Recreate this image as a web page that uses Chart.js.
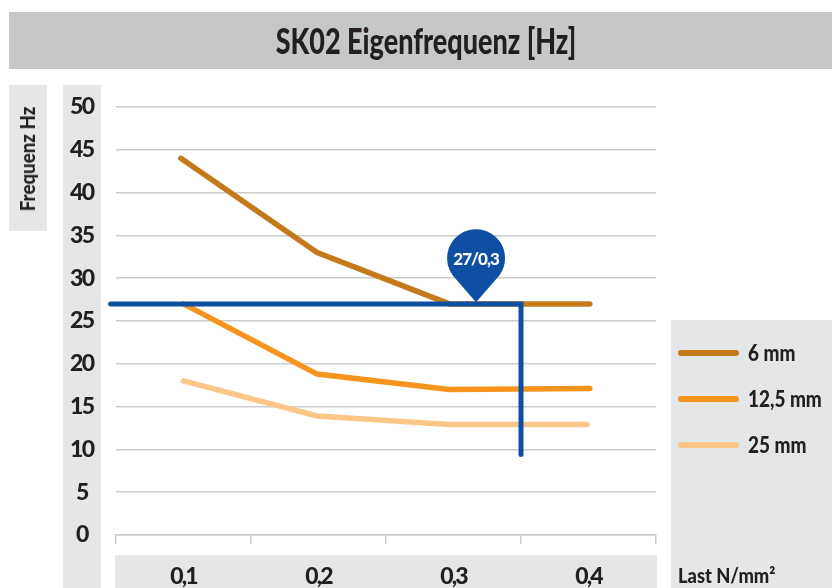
<!DOCTYPE html>
<html>
<head>
<meta charset="utf-8">
<style>
  html, body { margin: 0; padding: 0; background: #fff; overflow: hidden; }
  #wrap { position: relative; width: 832px; height: 588px; font-family: Lato, "Liberation Sans", sans-serif; font-weight: 900; color: #231f20; overflow: hidden; }
  .panel { position: absolute; background: #e5e6e8; }
  .txt { position: absolute; white-space: nowrap; }
  canvas { position: absolute; left: 0; top: 0; }
  .swatch { position: absolute; left: 678px; width: 61px; height: 5.5px; border-radius: 3px; }
</style>
</head>
<body>
<div id="wrap">
  <div class="panel" style="left:9px;top:12px;width:823px;height:57px;background:#c6c7c9"></div>
  <div class="panel" style="left:9px;top:85px;width:38px;height:146px"></div>
  <div class="panel" style="left:63px;top:85px;width:38px;height:503px"></div>
  <div class="panel" style="left:115px;top:555px;width:542px;height:33px"></div>
  <div class="panel" style="left:671px;top:320px;width:161px;height:268px"></div>
  <canvas id="chart" width="832" height="588"></canvas>
  <div class="txt" id="title" style="left:426px;top:20px;font-size:36px;line-height:40px;transform:translateX(-50%) scaleX(0.75)">SK02 Eigenfrequenz [Hz]</div>
  <div class="txt" id="ytitle" style="left:27px;top:159px;font-size:21px;line-height:24px;transform:translate(-50%,-50%) rotate(-90deg) scaleX(0.89)">Frequenz Hz</div>
  <div class="txt" id="xtitle" style="left:678px;top:563px;font-size:21px;line-height:24px;transform-origin:left center;transform:scaleX(0.87)">Last N/mm²</div>
  <div id="legend"></div>
</div>
<script src="https://cdn.jsdelivr.net/npm/chart.js@4"></script>
<script>
const loadLabels = ["0,1", "0,2", "0,3", "0,4"];

const load6 = [0.098, 0.199, 0.297, 0.401];
const hz6 = [44, 33, 27, 27];

const load12 = [0.1, 0.199, 0.297, 0.401];
const hz12 = [27, 18.8, 17, 17.1];

const load25 = [0.1, 0.199, 0.297, 0.399];
const hz25 = [18, 13.9, 12.9, 12.9];

const guideLoad = [0.046, 0.35, 0.35];
const guideHz = [27, 27, 9.4];

const pinLoad = 0.3167;
const pinHz = 27.2;
const pinText = "27/0,3";

const seriesNames = ["6 mm", "12,5 mm", "25 mm"];
const seriesColors = ["#c47a1a", "#f7941e", "#fdc689"];
const guideColor = "#0f4fa3";

const fontName = 'Lato, "Liberation Sans", sans-serif';
const gridColor = "#cbccce";

function points(xs, ys) {
  return xs.map((x, i) => ({ x: x, y: ys[i] }));
}

function lineSet(label, data, color, width) {
  return {
    label: label,
    data: data,
    xAxisID: "xLoad",
    borderColor: color,
    backgroundColor: color,
    borderWidth: width,
    borderCapStyle: "round",
    borderJoinStyle: "miter",
    pointRadius: 0,
    tension: 0,
    clip: false
  };
}

// tighter tick labels, the original type is a condensed face
const tightPlugin = {
  id: "tight",
  beforeDraw(chart) {
    chart.ctx.letterSpacing = "-1.8px";
  }
};

// teardrop marker sitting on the guide line
const pinPlugin = {
  id: "pin",
  afterDatasetsDraw(chart) {
    const ctx = chart.ctx;
    const tipX = chart.scales.xLoad.getPixelForValue(pinLoad);
    const tipY = chart.scales.y.getPixelForValue(pinHz);
    const r = 29;
    const cy = tipY - 44;
    const a = Math.PI * 0.2;
    ctx.save();
    ctx.fillStyle = guideColor;
    ctx.beginPath();
    ctx.arc(tipX, cy, r, Math.PI - a, a);
    ctx.lineTo(tipX, tipY);
    ctx.closePath();
    ctx.fill();
    ctx.fillStyle = "#fff";
    ctx.font = "900 17px " + fontName;
    ctx.letterSpacing = "-1px";
    ctx.textAlign = "center";
    ctx.textBaseline = "middle";
    ctx.fillText(pinText, tipX, cy + 1);
    ctx.restore();
  }
};

new Chart(document.getElementById("chart"), {
  type: "line",
  data: {
    labels: loadLabels,
    datasets: [
      Object.assign(lineSet("Guide", points(guideLoad, guideHz), guideColor, 5), { order: 0 }),
      Object.assign(lineSet(seriesNames[2], points(load25, hz25), seriesColors[2], 5.5), { order: 3 }),
      Object.assign(lineSet(seriesNames[1], points(load12, hz12), seriesColors[1], 5.5), { order: 2 }),
      Object.assign(lineSet(seriesNames[0], points(load6, hz6), seriesColors[0], 5.5), { order: 1 })
    ]
  },
  plugins: [tightPlugin, pinPlugin],
  options: {
    responsive: false,
    animation: false,
    layout: { padding: { top: 107, right: 176, bottom: 0, left: 0 } },
    plugins: { legend: { display: false }, title: { display: false }, tooltip: { enabled: false } },
    scales: {
      x: {
        type: "category",
        offset: true,
        grid: { offset: true, drawOnChartArea: false, color: gridColor, lineWidth: 1.5, tickLength: 9 },
        border: { color: gridColor, width: 1.5 },
        ticks: { color: "#231f20", padding: 19, font: { family: fontName, size: 23, weight: "900" }, maxRotation: 0 },
        afterFit(scale) { scale.height = 53; }
      },
      xLoad: { type: "linear", display: false, min: 0.05, max: 0.45 },
      y: {
        min: 0,
        max: 50,
        grid: { color: gridColor, lineWidth: 1.5, drawTicks: false },
        border: { display: false },
        ticks: {
          stepSize: 5,
          color: "#231f20",
          padding: 21,
          crossAlign: "center",
          font: { family: fontName, size: 23, weight: "900" }
        },
        afterFit(scale) { scale.width = 116; }
      }
    }
  }
});

// legend in the grey box on the right
const legendBox = document.getElementById("legend");
const legendTops = [353, 399, 445];
seriesNames.forEach((name, i) => {
  const s = document.createElement("div");
  s.className = "swatch";
  s.style.top = (legendTops[i] - 2.75) + "px";
  s.style.background = seriesColors[i];
  legendBox.appendChild(s);
  const t = document.createElement("div");
  t.className = "txt";
  t.textContent = name;
  t.style.cssText = "left:748px;top:" + (legendTops[i] - 12) + "px;font-size:22px;line-height:24px;transform-origin:left center;transform:scaleX(0.86)";
  legendBox.appendChild(t);
});
</script>
</body>
</html>
